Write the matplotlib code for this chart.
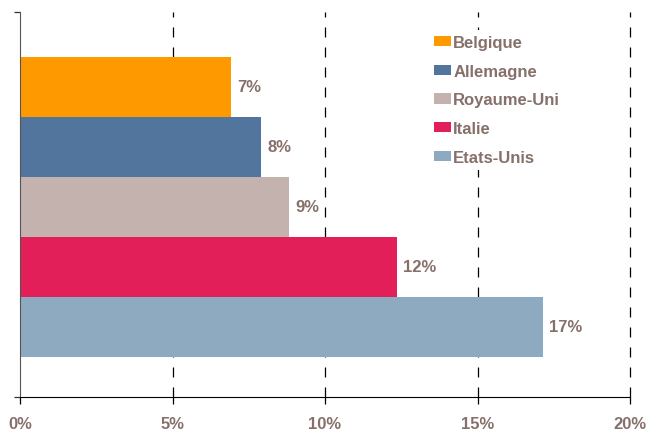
import matplotlib.pyplot as plt
from matplotlib.ticker import FuncFormatter

# Data
countries = ["Belgique", "Allemagne", "Royaume-Uni", "Italie", "Etats-Unis"]
values = [6.92, 7.9, 8.82, 12.36, 17.15]
labels = ["7%", "8%", "9%", "12%", "17%"]
colors = ["#FF9900", "#52759E", "#C4B2AE", "#E31F5A", "#8EAAC0"]

text_color = "#86706A"
plt.rcParams["font.family"] = ["Liberation Sans", "DejaVu Sans"]

fig = plt.figure(figsize=(6.52, 4.35), dpi=100)
W, H = 652, 435
ax = fig.add_axes([20 / W, 1 - 398 / H, (630 - 20) / W, (398 - 13) / H])

for i, (c, v, col, lab) in enumerate(zip(countries, values, colors, labels)):
    ax.barh(i, v, height=1.0, color=col, label=c, zorder=2)
    ax.text(v + 0.2, i, lab, va="center", ha="left", fontsize=12,
            fontweight="bold", color=text_color)

ax.set_xlim(0, 20)
ax.set_ylim(5.17, -1.25)

# Gridlines
for x in [5, 10, 15, 20]:
    ax.axvline(x, color="black", lw=0.9, ls=(0, (8, 8)), zorder=1, clip_on=False)

ax.set_xticks([0, 5, 10, 15, 20])
ax.xaxis.set_major_formatter(FuncFormatter(lambda x, p: f"{x:.0f}%"))
ax.tick_params(axis="x", direction="out", length=5, width=0.9, colors="black",
               labelcolor=text_color, labelsize=12, pad=9)
for t in ax.get_xticklabels():
    t.set_fontweight("bold")

ax.set_yticks([5.17, -1.25])
ax.set_yticklabels(["", ""])
ax.tick_params(axis="y", direction="out", length=4, width=0.9, colors="#333333")

for s in ["top", "right"]:
    ax.spines[s].set_visible(False)
ax.spines["left"].set_color("#555555")
ax.spines["bottom"].set_color("black")

leg = ax.legend(loc="upper left", bbox_to_anchor=(429 / W, 1 - 31 / H),
                bbox_transform=fig.transFigure, frameon=True,
                facecolor="white", edgecolor="none", framealpha=1,
                fancybox=False,
                handlelength=1.0, handleheight=0.6, handletextpad=0.15,
                labelspacing=0.82, borderpad=0.3, borderaxespad=0,
                prop={"weight": "bold", "size": 12})
leg.set_zorder(5)
for t in leg.get_texts():
    t.set_color(text_color)

fig.savefig("out.png", dpi=100)
